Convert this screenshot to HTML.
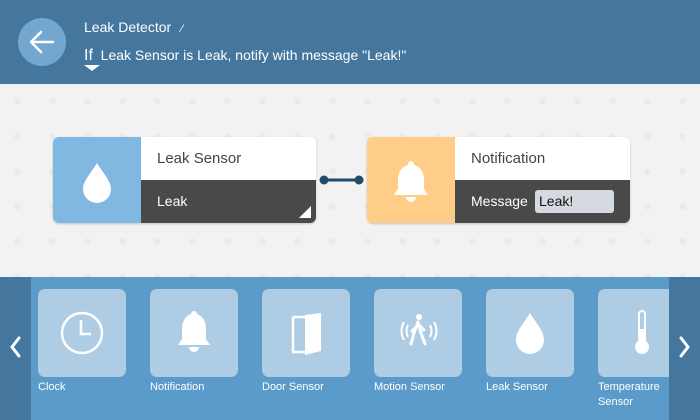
<!DOCTYPE html>
<html style="overflow:hidden"><head><meta charset="utf-8"><style>
*{margin:0;padding:0;box-sizing:border-box}
html,body{width:700px;height:420px;overflow:hidden}
body{position:relative;font-family:"Liberation Sans",sans-serif;background:#f2f2f2}
.hdr{position:absolute;left:0;top:0;width:700px;height:84px;background:#45769d;box-shadow:0 1px 3px rgba(0,0,0,.3)}
.back{position:absolute;left:18px;top:18px;width:48px;height:48px;border-radius:50%;background:#74a7cf}
.t1{position:absolute;left:84px;top:19px;color:#fff;font-size:14px}
.t2{position:absolute;left:84px;top:47px;color:#fff;font-size:14px}
.canvas{position:absolute;left:0;top:84px;width:700px;height:193px;background-color:#f2f2f2;background-image:radial-gradient(circle,#eaeaea 3px,transparent 3.5px);background-size:35px 35px;background-position:0 0}
.card{position:absolute;top:137px;width:263px;height:86px;border-radius:6px;overflow:hidden;box-shadow:0 1px 2px rgba(0,0,0,.2)}
.ic{position:absolute;left:0;top:0;width:88px;height:86px}
.top{position:absolute;left:88px;top:0;right:0;height:43px;background:#fff;color:#444;font-size:15px;padding:13px 0 0 16px}
.bot{position:absolute;left:88px;top:43px;right:0;height:43px;background:#494949;color:#fff;font-size:14px;padding:13px 0 0 16px}
.pal{position:absolute;left:0;top:277px;width:700px;height:143px;background:#5b9bc9}
.side{position:absolute;top:277px;width:31px;height:143px;background:#45769d}
.tile{position:absolute;top:289px;width:88px;height:88px;border-radius:7px;background:#aecde5}
.lbl{position:absolute;top:380px;color:#fff;font-size:11px;line-height:15px}
</style></head><body>
<div class="hdr">
<div class="back"><svg width="48" height="48"><path d="M35 24H14M23 14L13 24L23 34" stroke="#fff" stroke-width="2.5" fill="none" stroke-linecap="round" stroke-linejoin="round"/></svg></div>
<div class="t1">Leak Detector <span style="font-size:11px;margin-left:6px">&#x2215;</span></div>
<div class="t2"><span style="font-size:16px">If</span>&nbsp; Leak Sensor is Leak, notify with message "Leak!"</div>
<svg style="position:absolute;left:83px;top:64px" width="18" height="8"><path d="M1 1H17L9 7Z" fill="#fff"/></svg>
</div>
<div class="canvas"></div>
<div class="card" style="left:53px">
<div class="ic" style="background:#80b8e2"><svg width="88" height="86"><path d="M44 26C38 36 30 44 30 52a14 14 0 0 0 28 0C58 44 50 36 44 26Z" fill="#fff"/></svg></div>
<div class="top">Leak Sensor</div>
<div class="bot">Leak<svg style="position:absolute;right:5px;bottom:5px" width="12" height="12"><path d="M12 0V12H0Z" fill="#fff"/></svg></div>
</div>
<svg style="position:absolute;left:318px;top:174px" width="48" height="12"><circle cx="6" cy="6" r="4.5" fill="#234a66"/><circle cx="41" cy="6" r="4.5" fill="#234a66"/><rect x="6" y="4.5" width="35" height="3" fill="#234a66"/></svg>
<div class="card" style="left:367px">
<div class="ic" style="background:#fecd88"><svg width="88" height="86"><path d="M44 24c-2 0-3 2-3 4-7 2-10 8-10 15v9l-4 6h34l-4-6v-9c0-7-3-13-10-15 0-2-1-4-3-4Z" fill="#fff"/><path d="M39 60a5 5 0 0 0 10 0Z" fill="#fff"/></svg></div>
<div class="top">Notification</div>
<div class="bot">Message <span style="position:absolute;left:80px;top:10px;width:79px;height:23px;background:#d4dae0;border-radius:3px;color:#111;padding:3px 0 0 4px">Leak!</span></div>
</div>
<div class="pal"></div>
<div class="side" style="left:0"><svg width="31" height="143"><path d="M19 61L12 70L19 79" stroke="#fff" stroke-width="3" fill="none" stroke-linecap="round"/></svg></div>
<div class="side" style="left:669px"><svg width="31" height="143"><path d="M12 61L19 70L12 79" stroke="#fff" stroke-width="3" fill="none" stroke-linecap="round"/></svg></div>
<div class="tile" style="left:38px"><svg width="88" height="88"><circle cx="44" cy="44" r="20" stroke="#fff" stroke-width="2.5" fill="none"/><path d="M43 31V45H53" stroke="#fff" stroke-width="2.5" fill="none"/></svg></div>
<div class="tile" style="left:150px"><svg width="88" height="88"><path d="M44 22c-2 0-3 2-3 3-6 2-9 8-9 15v10l-4 6h32l-4-6V40c0-7-3-13-9-15 0-1-1-3-3-3Z" fill="#fff"/><path d="M39 58a5 5 0 0 0 10 0Z" fill="#fff"/></svg></div>
<div class="tile" style="left:262px"><svg width="88" height="88"><path d="M31 28H43M31 28V63H43" stroke="#fff" stroke-width="2.5" fill="none"/><path d="M43 26L59 24V62L43 66Z" fill="#fff"/></svg></div>
<div class="tile" style="left:374px"><svg width="88" height="88"><circle cx="45" cy="28" r="3" fill="#fff"/><path d="M44 33L40 44L37 55M44 33L47 44L51 55M44 36L38 42M45 36L50 41" stroke="#fff" stroke-width="3" fill="none" stroke-linecap="round"/><path d="M34 36q-3 6 0 12M30 33q-5 9 0 18M56 36q3 6 0 12M60 33q5 9 0 18" stroke="#fff" stroke-width="2" fill="none"/></svg></div>
<div class="tile" style="left:486px"><svg width="88" height="88"><path d="M44 24C38 34 30 42 30 51a14 14 0 0 0 28 0C58 42 50 34 44 24Z" fill="#fff"/></svg></div>
<div class="tile" style="left:598px;width:71px;border-radius:7px 0 0 7px"><svg width="71" height="88"><rect x="41" y="22" width="6" height="34" rx="3" stroke="#fff" stroke-width="2" fill="none"/><circle cx="44" cy="58" r="7" fill="#fff"/><rect x="42" y="40" width="4" height="16" fill="#fff"/></svg></div>
<div class="lbl" style="left:38px">Clock</div>
<div class="lbl" style="left:150px">Notification</div>
<div class="lbl" style="left:262px">Door Sensor</div>
<div class="lbl" style="left:374px">Motion Sensor</div>
<div class="lbl" style="left:486px">Leak Sensor</div>
<div class="lbl" style="left:598px">Temperature<br>Sensor</div>
</body></html>
